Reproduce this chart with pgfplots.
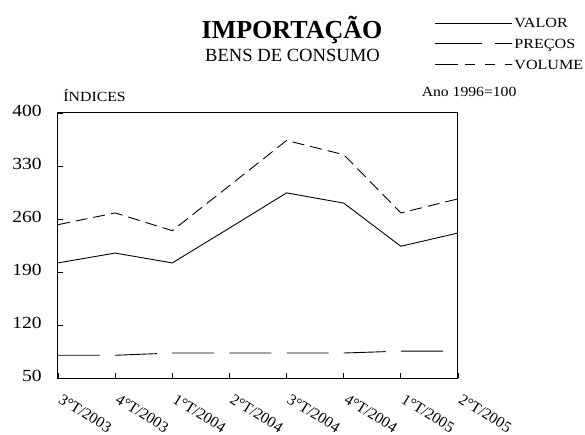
\documentclass[border=0pt]{standalone}
\usepackage{fontspec}
\setmainfont{Liberation Serif}
\usepackage{pgfplots}
\pgfplotsset{compat=1.18}
\newcommand{\sx}[2][1.15]{\scalebox{#1}[1]{#2}}
\begin{document}
\begin{tikzpicture}
\path[use as bounding box] (-58bp,-57bp) rectangle (527bp,378bp);
\begin{axis}[
  scale only axis, width=400bp, height=265bp,
  xmin=0, xmax=7, ymin=50, ymax=400,
  xtick={0,...,7},
  xticklabels={3°T/2003,4°T/2003,1°T/2004,2°T/2004,3°T/2004,4°T/2004,1°T/2005,2°T/2005},
  ytick={50,120,190,260,330,400},
  tick align=inside, xtick pos=lower, ytick pos=lower,
  major tick length=5bp,
  axis line style={line width=1bp},
  every tick/.style={black, line width=0.8bp},
  /pgf/number format/assume math mode=true,
  yticklabel style={font=\fontsize{17bp}{20bp}\selectfont, anchor=east, inner sep=0pt, xshift=-16bp, yshift=2.5bp, xscale=1.15},
  xticklabel style={font=\fontsize{15.5bp}{18bp}\selectfont, inner sep=0pt, xshift=5bp, yshift=-15bp, rotate=-32, anchor=north west},
  clip=false,
  legend style={draw=none, fill=none, at={(rel axis cs:0.9425,1.2611)}, anchor=west,
    inner sep=0pt, outer sep=0pt, row sep=8bp, column sep=1.5bp,
    font=\fontsize{14bp}{16bp}\selectfont, nodes={inner sep=0pt}},
  legend cell align=left,
]
\addplot[black, line width=0.9bp, solid,
  legend image code/.code={\draw[black, line width=0.9bp, solid] (0bp,0bp) -- (77bp,0bp);}]
  coordinates {(0,202) (1,215) (2,202) (3,248) (4,294.5) (5,281) (6,224) (7,241.5)};
\addlegendentry{\sx{VALOR}\strut}
\addplot[black, line width=0.9bp, dash pattern=on 42bp off 15.14bp,
  legend image code/.code={\draw[black, line width=0.9bp, dash pattern=on 47bp off 13bp on 17bp off 0bp] (0bp,0bp) -- (77bp,0bp);}]
  coordinates {(0,80) (1,80) (2,83) (3,83) (4,83) (5,83) (6,85.5) (7,85.5)};
\addlegendentry{\sx{PREÇOS}\strut}
\addplot[black, line width=0.9bp, dash pattern=on 12bp off 6bp,
  legend image code/.code={\draw[black, line width=0.9bp, dash pattern=on 23bp off 7bp on 10bp off 10bp on 10bp off 10bp on 7bp off 0bp] (0bp,0bp) -- (77bp,0bp);}]
  coordinates {(0,252.5) (1,268) (2,244.6) (3,304) (4,363.7) (5,345) (6,268) (7,286.6)};
\addlegendentry{\sx{VOLUME}\strut}
\node[anchor=base, font=\bfseries\fontsize{26bp}{30bp}\selectfont] at (rel axis cs:0.585,1.283) {IMPORTAÇÃO};
\node[anchor=base, font=\fontsize{18.6bp}{22bp}\selectfont] at (rel axis cs:0.5863,1.1925) {BENS DE CONSUMO};
\node[anchor=base west, inner sep=0pt, font=\fontsize{14bp}{16bp}\selectfont] at (rel axis cs:0.013,1.0427) {\sx[1.13]{ÍNDICES}};
\node[anchor=base west, inner sep=0pt, font=\fontsize{14bp}{16bp}\selectfont] at (rel axis cs:0.909,1.0615) {\sx[1.12]{Ano 1996=100}};
\end{axis}
\end{tikzpicture}
\end{document}
